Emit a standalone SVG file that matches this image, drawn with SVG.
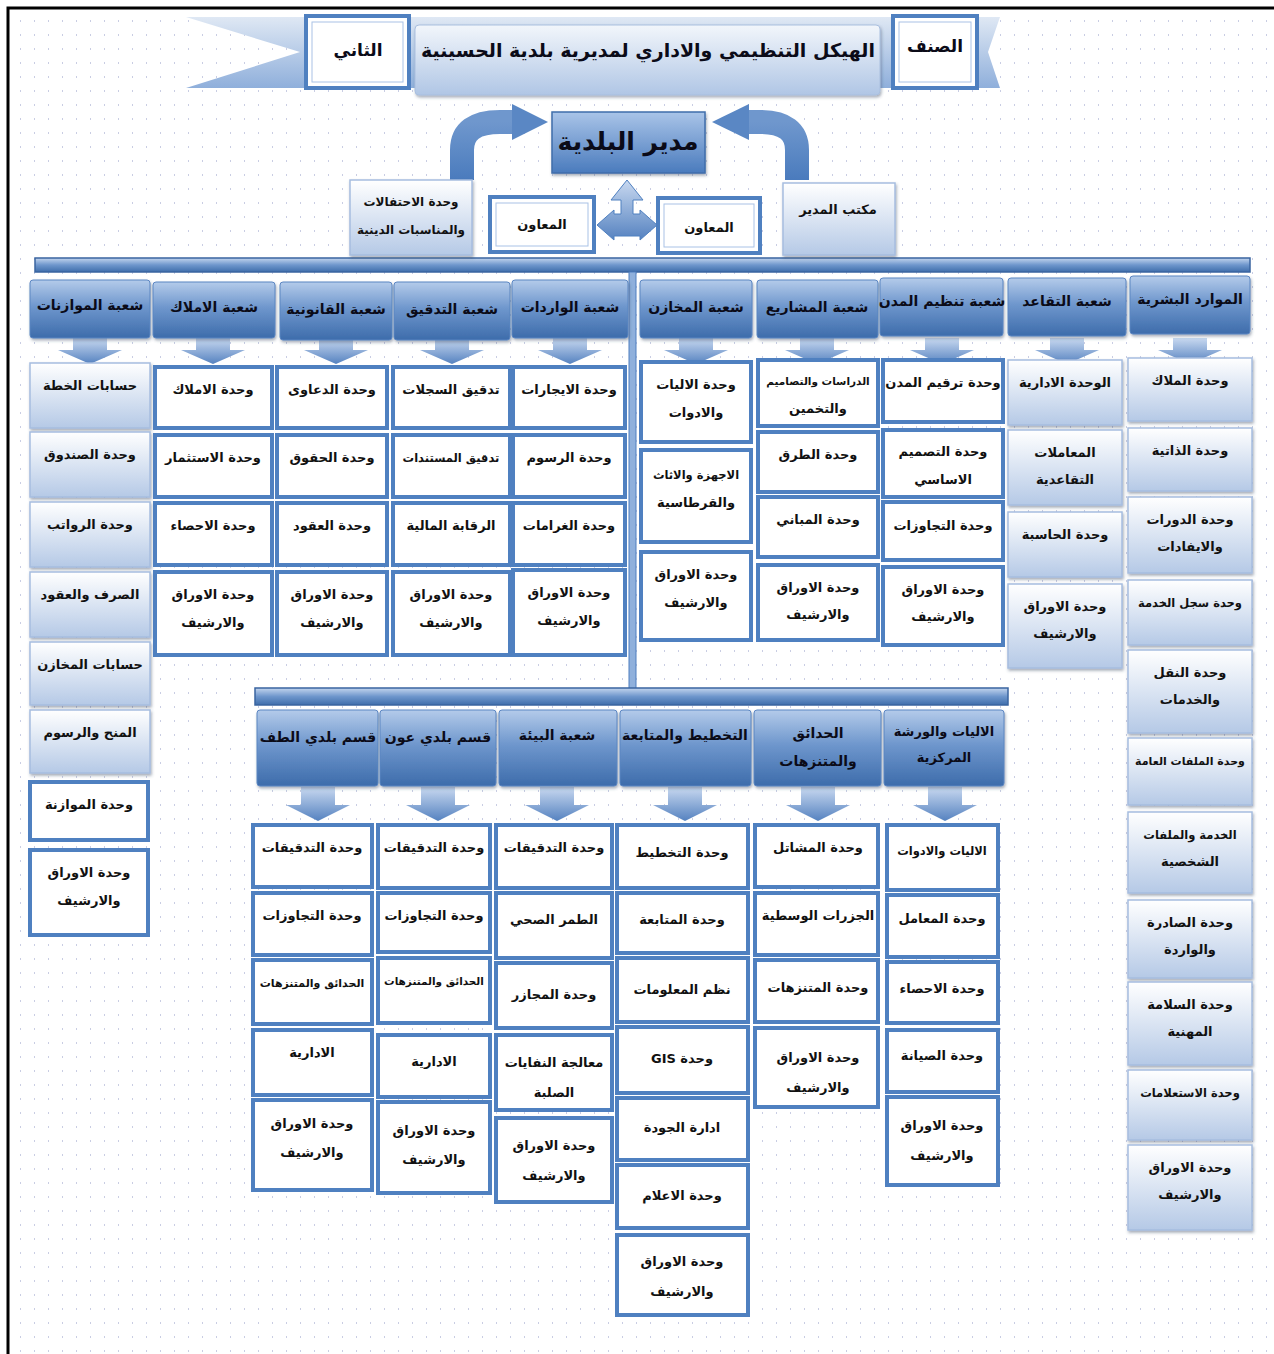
<svg xmlns="http://www.w3.org/2000/svg" xmlns:xlink="http://www.w3.org/1999/xlink" width="1274" height="1354" viewBox="0 0 1274 1354">
<defs>
<pattern id="dots" width="14" height="14" patternUnits="userSpaceOnUse"><rect x="6" y="6" width="1" height="2" fill="#c9cde3"/></pattern>
<linearGradient id="gHdr" x1="0" y1="0" x2="0" y2="1"><stop offset="0" stop-color="#b4cbea"/><stop offset="0.45" stop-color="#6f97cd"/><stop offset="1" stop-color="#3d6cab"/></linearGradient>
<linearGradient id="gBox" x1="0" y1="0" x2="0" y2="1"><stop offset="0" stop-color="#ffffff"/><stop offset="1" stop-color="#b5c9e6"/></linearGradient>
<linearGradient id="gArr" x1="0" y1="0" x2="0" y2="1"><stop offset="0" stop-color="#c9d9f0"/><stop offset="1" stop-color="#5582c0"/></linearGradient>
<linearGradient id="gDir" x1="0" y1="0" x2="0" y2="1"><stop offset="0" stop-color="#a9c4e8"/><stop offset="1" stop-color="#4a7bbd"/></linearGradient>
<linearGradient id="gBar" x1="0" y1="0" x2="0" y2="1"><stop offset="0" stop-color="#c3d5ee"/><stop offset="0.5" stop-color="#6e96cc"/><stop offset="1" stop-color="#3f6eab"/></linearGradient>
<linearGradient id="gRib" x1="0" y1="0" x2="0" y2="1"><stop offset="0" stop-color="#dfe8f4"/><stop offset="1" stop-color="#8fafdb"/></linearGradient>
<linearGradient id="gTitle" x1="0" y1="0" x2="0" y2="1"><stop offset="0" stop-color="#f2f6fb"/><stop offset="1" stop-color="#b0c6e5"/></linearGradient>
<linearGradient id="gCurve" x1="0" y1="0" x2="0" y2="1"><stop offset="0" stop-color="#6f97cd"/><stop offset="1" stop-color="#4a7bbd"/></linearGradient>
<filter id="sh" x="-10%" y="-10%" width="120%" height="130%"><feDropShadow dx="1" dy="2" stdDeviation="1.5" flood-color="#3a4a66" flood-opacity="0.45"/></filter>
<path id="dn" d="M-17,0 H17 V12 H32 L0,26 L-32,12 H-17 Z"/>
<path id="dn2" d="M-17,0 H17 V18 H32 L0,34 L-32,18 H-17 Z"/>
<style>
.g{fill:url(#gBox);stroke:#a6bddf;stroke-width:1.5;filter:url(#sh)}
.w{fill:#fff;stroke:#4f80c0;stroke-width:4}
.w2{fill:none;stroke:#a9c2e6;stroke-width:1}
.h{fill:url(#gHdr);stroke:#5b86c2;stroke-width:1;filter:url(#sh)}
.t{font-family:"DejaVu Sans",sans-serif;font-weight:bold;font-size:13px;fill:#111;text-anchor:middle;direction:rtl}
.ht{font-family:"DejaVu Sans",sans-serif;font-weight:bold;font-size:14px;fill:#0b0b18;text-anchor:middle;direction:rtl}
.s{font-size:11.5px}
.arr{fill:url(#gArr)}
</style>
</defs>
<rect width="1274" height="1354" fill="#fff"/>
<rect x="8" y="8" width="1266" height="1346" fill="url(#dots)"/>
<path d="M8,1354 V8 H1274" fill="none" stroke="#000" stroke-width="3"/>

<g id="connectors">
<rect x="35" y="258" width="1215" height="14" fill="url(#gBar)" stroke="#3a64a0" stroke-width="1.5"/>
<rect x="629" y="272" width="7" height="418" fill="#8fb0dc" stroke="#4f7fbf" stroke-width="1"/>
<rect x="255" y="688" width="753" height="17" fill="url(#gBar)" stroke="#3a64a0" stroke-width="1.5"/>
<path d="M462,180 V150 Q462,122 500,122 H515" fill="none" stroke="url(#gCurve)" stroke-width="24"/>
<polygon points="512,104 548,122 512,140" fill="#5a87c4"/>
<path d="M797,180 V150 Q797,122 760,122 H746" fill="none" stroke="url(#gCurve)" stroke-width="24"/>
<polygon points="749,104 712,122 749,140" fill="#5a87c4"/>
<polygon points="627,180 643,200 633,200 633,214 640,214 640,210 657,225 640,240 640,236 614,236 614,240 597,225 614,210 614,214 621,214 621,200 611,200" fill="url(#gArr)" stroke="#4f80c0" stroke-width="1"/>
<g class="arr">
<use href="#dn" x="90" y="338"/><use href="#dn" x="213" y="338"/><use href="#dn" x="336" y="338"/><use href="#dn" x="452" y="338"/><use href="#dn" x="570" y="338"/>
<use href="#dn" x="696" y="338"/><use href="#dn" x="817" y="338"/><use href="#dn" x="942" y="338"/><use href="#dn" x="1067" y="338"/><use href="#dn" x="1190" y="338"/>
<use href="#dn2" x="318" y="787"/><use href="#dn2" x="438" y="787"/><use href="#dn2" x="557" y="787"/><use href="#dn2" x="685" y="787"/><use href="#dn2" x="818" y="787"/><use href="#dn2" x="945" y="787"/>
</g>
</g>

<g id="banner">
<polygon points="186,17 1000,17 988,52 1000,88 186,88 300,52" fill="url(#gRib)"/>
</g>
<g id="n-second"><rect x="306" y="16" width="103" height="72" class="w"/><rect x="312" y="22" width="91" height="60" class="w2"/><text class="ht" x="358" y="56" style="font-size:17px">الثاني</text></g>
<g id="n-class"><rect x="893" y="16" width="84" height="72" class="w"/><rect x="899" y="22" width="72" height="60" class="w2"/><text class="ht" x="935" y="52" style="font-size:17px">الصنف</text></g>
<g id="n-title"><rect x="415" y="25" width="465" height="70" rx="4" fill="url(#gTitle)" stroke="#a9bfdf" filter="url(#sh)"/><text class="ht" x="648" y="57" style="font-size:19px">الهيكل التنظيمي والاداري لمديرية بلدية الحسينية</text></g>
<g id="n-director"><rect x="552" y="112" width="153" height="61" fill="url(#gDir)" stroke="#3f6dab" stroke-width="1.5" filter="url(#sh)"/><text class="ht" x="628" y="150" style="font-size:25px">مدير البلدية</text></g>
<g id="n-ceremonies"><rect x="350" y="180" width="122" height="75" class="g"/><text class="t" x="411" y="206" style="font-size:12px">وحدة الاحتفالات</text><text class="t" x="411" y="234" style="font-size:12px">والمناسبات الدينية</text></g>
<g id="n-office"><rect x="783" y="183" width="112" height="72" class="g"/><text class="t" x="838" y="214">مكتب المدير</text></g>
<g id="n-assist1"><rect x="490" y="197" width="104" height="55" class="w"/><rect x="496" y="203" width="92" height="43" class="w2"/><text class="t" x="542" y="229">المعاون</text></g>
<g id="n-assist2"><rect x="658" y="198" width="102" height="55" class="w"/><rect x="664" y="204" width="90" height="43" class="w2"/><text class="t" x="709" y="232">المعاون</text></g>

<!-- top headers -->
<g id="h1"><rect x="30" y="280" width="120" height="58" rx="3" class="h"/><text class="ht" x="90" y="310">شعبة الموازنات</text></g>
<g id="h2"><rect x="153" y="282" width="122" height="56" rx="3" class="h"/><text class="ht" x="214" y="312">شعبة الاملاك</text></g>
<g id="h3"><rect x="280" y="282" width="112" height="58" rx="3" class="h"/><text class="ht" x="336" y="314">شعبة القانونية</text></g>
<g id="h4"><rect x="394" y="282" width="116" height="58" rx="3" class="h"/><text class="ht" x="452" y="314">شعبة التدقيق</text></g>
<g id="h5"><rect x="512" y="280" width="116" height="58" rx="3" class="h"/><text class="ht" x="570" y="312">شعبة الواردات</text></g>
<g id="h6"><rect x="640" y="280" width="112" height="58" rx="3" class="h"/><text class="ht" x="696" y="312">شعبة المخازن</text></g>
<g id="h7"><rect x="757" y="280" width="121" height="58" rx="3" class="h"/><text class="ht" x="817" y="312">شعبة المشاريع</text></g>
<g id="h8"><rect x="880" y="278" width="123" height="58" rx="3" class="h"/><text class="ht" x="942" y="306">شعبة تنظيم المدن</text></g>
<g id="h9"><rect x="1008" y="278" width="118" height="58" rx="3" class="h"/><text class="ht" x="1067" y="306">شعبة التقاعد</text></g>
<g id="h10"><rect x="1130" y="276" width="120" height="58" rx="3" class="h"/><text class="ht" x="1190" y="304">الموارد البشرية</text></g>

<!-- column 1 -->
<g id="c1-1"><rect x="30" y="363" width="120" height="65" class="g"/><text class="t" x="90" y="390">حسابات الخطة</text></g>
<g id="c1-2"><rect x="30" y="432" width="120" height="65" class="g"/><text class="t" x="90" y="459">وحدة الصندوق</text></g>
<g id="c1-3"><rect x="30" y="502" width="120" height="65" class="g"/><text class="t" x="90" y="529">وحدة الرواتب</text></g>
<g id="c1-4"><rect x="30" y="572" width="120" height="65" class="g"/><text class="t" x="90" y="599">الصرف والعقود</text></g>
<g id="c1-5"><rect x="30" y="642" width="120" height="63" class="g"/><text class="t" x="90" y="669">حسابات المخازن</text></g>
<g id="c1-6"><rect x="30" y="710" width="120" height="63" class="g"/><text class="t" x="90" y="737">المنح والرسوم</text></g>
<g id="c1-7"><rect x="30" y="782" width="118" height="58" class="w"/><text class="t" x="89" y="809">وحدة الموازنة</text></g>
<g id="c1-8"><rect x="30" y="850" width="118" height="85" class="w"/><text class="t" x="89" y="877">وحدة الاوراق</text><text class="t" x="89" y="905">والارشيف</text></g>

<!-- column 2 -->
<g id="c2-1"><rect x="155" y="367" width="117" height="61" class="w"/><text class="t" x="213" y="394">وحدة الاملاك</text></g>
<g id="c2-2"><rect x="155" y="435" width="117" height="62" class="w"/><text class="t" x="213" y="462">وحدة الاستثمار</text></g>
<g id="c2-3"><rect x="155" y="503" width="117" height="62" class="w"/><text class="t" x="213" y="530">وحدة الاحصاء</text></g>
<g id="c2-4"><rect x="155" y="572" width="117" height="83" class="w"/><text class="t" x="213" y="599">وحدة الاوراق</text><text class="t" x="213" y="627">والارشيف</text></g>

<!-- column 3 -->
<g id="c3-1"><rect x="277" y="367" width="110" height="61" class="w"/><text class="t" x="332" y="394">وحدة الدعاوى</text></g>
<g id="c3-2"><rect x="277" y="435" width="110" height="62" class="w"/><text class="t" x="332" y="462">وحدة الحقوق</text></g>
<g id="c3-3"><rect x="277" y="503" width="110" height="62" class="w"/><text class="t" x="332" y="530">وحدة العقود</text></g>
<g id="c3-4"><rect x="277" y="572" width="110" height="83" class="w"/><text class="t" x="332" y="599">وحدة الاوراق</text><text class="t" x="332" y="627">والارشيف</text></g>

<!-- column 4 -->
<g id="c4-1"><rect x="393" y="367" width="117" height="61" class="w"/><text class="t" x="451" y="394">تدقيق السجلات</text></g>
<g id="c4-2"><rect x="393" y="435" width="117" height="62" class="w"/><text class="t s" x="451" y="462">تدقيق المستندات</text></g>
<g id="c4-3"><rect x="393" y="503" width="117" height="62" class="w"/><text class="t" x="451" y="530">الرقابة المالية</text></g>
<g id="c4-4"><rect x="393" y="572" width="117" height="83" class="w"/><text class="t" x="451" y="599">وحدة الاوراق</text><text class="t" x="451" y="627">والارشيف</text></g>

<!-- column 5 -->
<g id="c5-1"><rect x="513" y="367" width="112" height="61" class="w"/><text class="t" x="569" y="394">وحدة الايجارات</text></g>
<g id="c5-2"><rect x="513" y="435" width="112" height="62" class="w"/><text class="t" x="569" y="462">وحدة الرسوم</text></g>
<g id="c5-3"><rect x="513" y="503" width="112" height="62" class="w"/><text class="t" x="569" y="530">وحدة الغرامات</text></g>
<g id="c5-4"><rect x="513" y="570" width="112" height="85" class="w"/><text class="t" x="569" y="597">وحدة الاوراق</text><text class="t" x="569" y="625">والارشيف</text></g>

<!-- column 6 -->
<g id="c6-1"><rect x="641" y="362" width="110" height="80" class="w"/><text class="t" x="696" y="389">وحدة الاليات</text><text class="t" x="696" y="417">والادوات</text></g>
<g id="c6-2"><rect x="641" y="450" width="110" height="92" class="w"/><text class="t s" x="696" y="479">الاجهزة والاثاث</text><text class="t" x="696" y="507">والقرطاسية</text></g>
<g id="c6-3"><rect x="641" y="552" width="110" height="88" class="w"/><text class="t" x="696" y="579">وحدة الاوراق</text><text class="t" x="696" y="607">والارشيف</text></g>

<!-- column 7 -->
<g id="c7-1"><rect x="758" y="360" width="120" height="66" class="w"/><text class="t" x="818" y="385" style="font-size:10.5px">الدراسات والتصاميم</text><text class="t" x="818" y="413">والتخمين</text></g>
<g id="c7-2"><rect x="758" y="432" width="120" height="60" class="w"/><text class="t" x="818" y="459">وحدة الطرق</text></g>
<g id="c7-3"><rect x="758" y="497" width="120" height="60" class="w"/><text class="t" x="818" y="524">وحدة المباني</text></g>
<g id="c7-4"><rect x="758" y="565" width="120" height="75" class="w"/><text class="t" x="818" y="592">وحدة الاوراق</text><text class="t" x="818" y="619">والارشيف</text></g>

<!-- column 8 -->
<g id="c8-1"><rect x="883" y="360" width="120" height="62" class="w"/><text class="t" x="943" y="387">وحدة ترقيم المدن</text></g>
<g id="c8-2"><rect x="883" y="430" width="120" height="67" class="w"/><text class="t" x="943" y="456">وحدة التصميم</text><text class="t" x="943" y="484">الاساسي</text></g>
<g id="c8-3"><rect x="883" y="502" width="120" height="58" class="w"/><text class="t" x="943" y="530">وحدة التجاوزات</text></g>
<g id="c8-4"><rect x="883" y="567" width="120" height="78" class="w"/><text class="t" x="943" y="594">وحدة الاوراق</text><text class="t" x="943" y="621">والارشيف</text></g>

<!-- column 9 -->
<g id="c9-1"><rect x="1008" y="360" width="114" height="65" class="g"/><text class="t" x="1065" y="387">الوحدة الادارية</text></g>
<g id="c9-2"><rect x="1008" y="430" width="114" height="75" class="g"/><text class="t" x="1065" y="457">المعاملات</text><text class="t" x="1065" y="484">التقاعدية</text></g>
<g id="c9-3"><rect x="1008" y="512" width="114" height="65" class="g"/><text class="t" x="1065" y="539">وحدة الحاسبة</text></g>
<g id="c9-4"><rect x="1008" y="584" width="114" height="84" class="g"/><text class="t" x="1065" y="611">وحدة الاوراق</text><text class="t" x="1065" y="638">والارشيف</text></g>

<!-- column 10 -->
<g id="c10-1"><rect x="1128" y="358" width="124" height="63" class="g"/><text class="t" x="1190" y="385">وحدة الملاك</text></g>
<g id="c10-2"><rect x="1128" y="428" width="124" height="63" class="g"/><text class="t" x="1190" y="455">وحدة الذاتية</text></g>
<g id="c10-3"><rect x="1128" y="497" width="124" height="76" class="g"/><text class="t" x="1190" y="524">وحدة الدورات</text><text class="t" x="1190" y="551">والايفادات</text></g>
<g id="c10-4"><rect x="1128" y="580" width="124" height="65" class="g"/><text class="t s" x="1190" y="607">وحدة سجل الخدمة</text></g>
<g id="c10-5"><rect x="1128" y="650" width="124" height="83" class="g"/><text class="t" x="1190" y="677">وحدة النقل</text><text class="t" x="1190" y="704">والخدمات</text></g>
<g id="c10-6"><rect x="1128" y="738" width="124" height="67" class="g"/><text class="t" x="1190" y="765" style="font-size:11px">وحدة الملفات العامة</text></g>
<g id="c10-7"><rect x="1128" y="812" width="124" height="81" class="g"/><text class="t s" x="1190" y="839">الخدمة والملفات</text><text class="t" x="1190" y="866">الشخصية</text></g>
<g id="c10-8"><rect x="1128" y="900" width="124" height="78" class="g"/><text class="t" x="1190" y="927">وحدة الصادرة</text><text class="t" x="1190" y="954">والواردة</text></g>
<g id="c10-9"><rect x="1128" y="982" width="124" height="83" class="g"/><text class="t" x="1190" y="1009">وحدة السلامة</text><text class="t" x="1190" y="1036">المهنية</text></g>
<g id="c10-10"><rect x="1128" y="1070" width="124" height="70" class="g"/><text class="t s" x="1190" y="1097">وحدة الاستعلامات</text></g>
<g id="c10-11"><rect x="1128" y="1145" width="124" height="85" class="g"/><text class="t" x="1190" y="1172">وحدة الاوراق</text><text class="t" x="1190" y="1199">والارشيف</text></g>

<!-- lower headers -->
<g id="l1"><rect x="257" y="710" width="121" height="76" rx="3" class="h"/><text class="ht" x="318" y="742">قسم بلدي الطف</text></g>
<g id="l2"><rect x="380" y="710" width="116" height="76" rx="3" class="h"/><text class="ht" x="438" y="742">قسم بلدي عون</text></g>
<g id="l3"><rect x="499" y="710" width="118" height="76" rx="3" class="h"/><text class="ht" x="557" y="740">شعبة البيئة</text></g>
<g id="l4"><rect x="620" y="710" width="131" height="76" rx="3" class="h"/><text class="ht" x="685" y="740">التخطيط والمتابعة</text></g>
<g id="l5"><rect x="754" y="710" width="127" height="76" rx="3" class="h"/><text class="ht" x="818" y="738">الحدائق</text><text class="ht" x="818" y="766">والمتنزهات</text></g>
<g id="l6"><rect x="884" y="710" width="120" height="76" rx="3" class="h"/><text class="ht" x="944" y="736" style="font-size:13px">الاليات والورشة</text><text class="ht" x="944" y="762" style="font-size:13px">المركزية</text></g>

<!-- lower column 1 -->
<g id="l1-1"><rect x="253" y="825" width="119" height="62" class="w"/><text class="t" x="312" y="852">وحدة التدقيقات</text></g>
<g id="l1-2"><rect x="253" y="893" width="119" height="62" class="w"/><text class="t" x="312" y="920">وحدة التجاوزات</text></g>
<g id="l1-3"><rect x="253" y="960" width="119" height="64" class="w"/><text class="t" x="312" y="987" style="font-size:11px">الحدائق والمتنزهات</text></g>
<g id="l1-4"><rect x="253" y="1030" width="119" height="65" class="w"/><text class="t" x="312" y="1057">الادارية</text></g>
<g id="l1-5"><rect x="253" y="1100" width="119" height="90" class="w"/><text class="t" x="312" y="1128">وحدة الاوراق</text><text class="t" x="312" y="1157">والارشيف</text></g>

<!-- lower column 2 -->
<g id="l2-1"><rect x="378" y="825" width="112" height="63" class="w"/><text class="t" x="434" y="852">وحدة التدقيقات</text></g>
<g id="l2-2"><rect x="378" y="893" width="112" height="59" class="w"/><text class="t" x="434" y="920">وحدة التجاوزات</text></g>
<g id="l2-3"><rect x="378" y="958" width="112" height="65" class="w"/><text class="t" x="434" y="985" style="font-size:10.5px">الحدائق والمتنزهات</text></g>
<g id="l2-4"><rect x="378" y="1035" width="112" height="62" class="w"/><text class="t" x="434" y="1066">الادارية</text></g>
<g id="l2-5"><rect x="378" y="1102" width="112" height="91" class="w"/><text class="t" x="434" y="1135">وحدة الاوراق</text><text class="t" x="434" y="1164">والارشيف</text></g>

<!-- lower column 3 -->
<g id="l3-1"><rect x="496" y="825" width="116" height="63" class="w"/><text class="t" x="554" y="852">وحدة التدقيقات</text></g>
<g id="l3-2"><rect x="496" y="893" width="116" height="65" class="w"/><text class="t" x="554" y="924">الطمر الصحي</text></g>
<g id="l3-3"><rect x="496" y="963" width="116" height="65" class="w"/><text class="t" x="554" y="999">وحدة المجازر</text></g>
<g id="l3-4"><rect x="496" y="1035" width="116" height="75" class="w"/><text class="t" x="554" y="1067">معالجة النفايات</text><text class="t" x="554" y="1097">الصلبة</text></g>
<g id="l3-5"><rect x="496" y="1118" width="116" height="84" class="w"/><text class="t" x="554" y="1150">وحدة الاوراق</text><text class="t" x="554" y="1180">والارشيف</text></g>

<!-- lower column 4 -->
<g id="l4-1"><rect x="617" y="825" width="131" height="63" class="w"/><text class="t" x="682" y="857">وحدة التخطيط</text></g>
<g id="l4-2"><rect x="617" y="893" width="131" height="60" class="w"/><text class="t" x="682" y="924">وحدة المتابعة</text></g>
<g id="l4-3"><rect x="617" y="958" width="131" height="64" class="w"/><text class="t" x="682" y="994">نظم المعلومات</text></g>
<g id="l4-4"><rect x="617" y="1027" width="131" height="66" class="w"/><text class="t" x="682" y="1063">وحدة GIS</text></g>
<g id="l4-5"><rect x="617" y="1098" width="131" height="62" class="w"/><text class="t" x="682" y="1132">ادارة الجودة</text></g>
<g id="l4-6"><rect x="617" y="1165" width="131" height="63" class="w"/><text class="t" x="682" y="1200">وحدة الاعلام</text></g>
<g id="l4-7"><rect x="617" y="1235" width="131" height="80" class="w"/><text class="t" x="682" y="1266">وحدة الاوراق</text><text class="t" x="682" y="1296">والارشيف</text></g>

<!-- lower column 5 -->
<g id="l5-1"><rect x="755" y="825" width="123" height="62" class="w"/><text class="t" x="818" y="852">وحدة المشاتل</text></g>
<g id="l5-2"><rect x="755" y="893" width="123" height="62" class="w"/><text class="t" x="818" y="920">الجزرات الوسطية</text></g>
<g id="l5-3"><rect x="755" y="960" width="123" height="62" class="w"/><text class="t" x="818" y="992">وحدة المتنزهات</text></g>
<g id="l5-4"><rect x="755" y="1028" width="123" height="79" class="w"/><text class="t" x="818" y="1062">وحدة الاوراق</text><text class="t" x="818" y="1092">والارشيف</text></g>

<!-- lower column 6 -->
<g id="l6-1"><rect x="887" y="825" width="111" height="65" class="w"/><text class="t s" x="942" y="855">الاليات والادوات</text></g>
<g id="l6-2"><rect x="887" y="895" width="111" height="62" class="w"/><text class="t" x="942" y="923">وحدة المعامل</text></g>
<g id="l6-3"><rect x="887" y="962" width="111" height="61" class="w"/><text class="t" x="942" y="993">وحدة الاحصاء</text></g>
<g id="l6-4"><rect x="887" y="1030" width="111" height="62" class="w"/><text class="t" x="942" y="1060">وحدة الصيانة</text></g>
<g id="l6-5"><rect x="887" y="1097" width="111" height="88" class="w"/><text class="t" x="942" y="1130">وحدة الاوراق</text><text class="t" x="942" y="1160">والارشيف</text></g>
</svg>
